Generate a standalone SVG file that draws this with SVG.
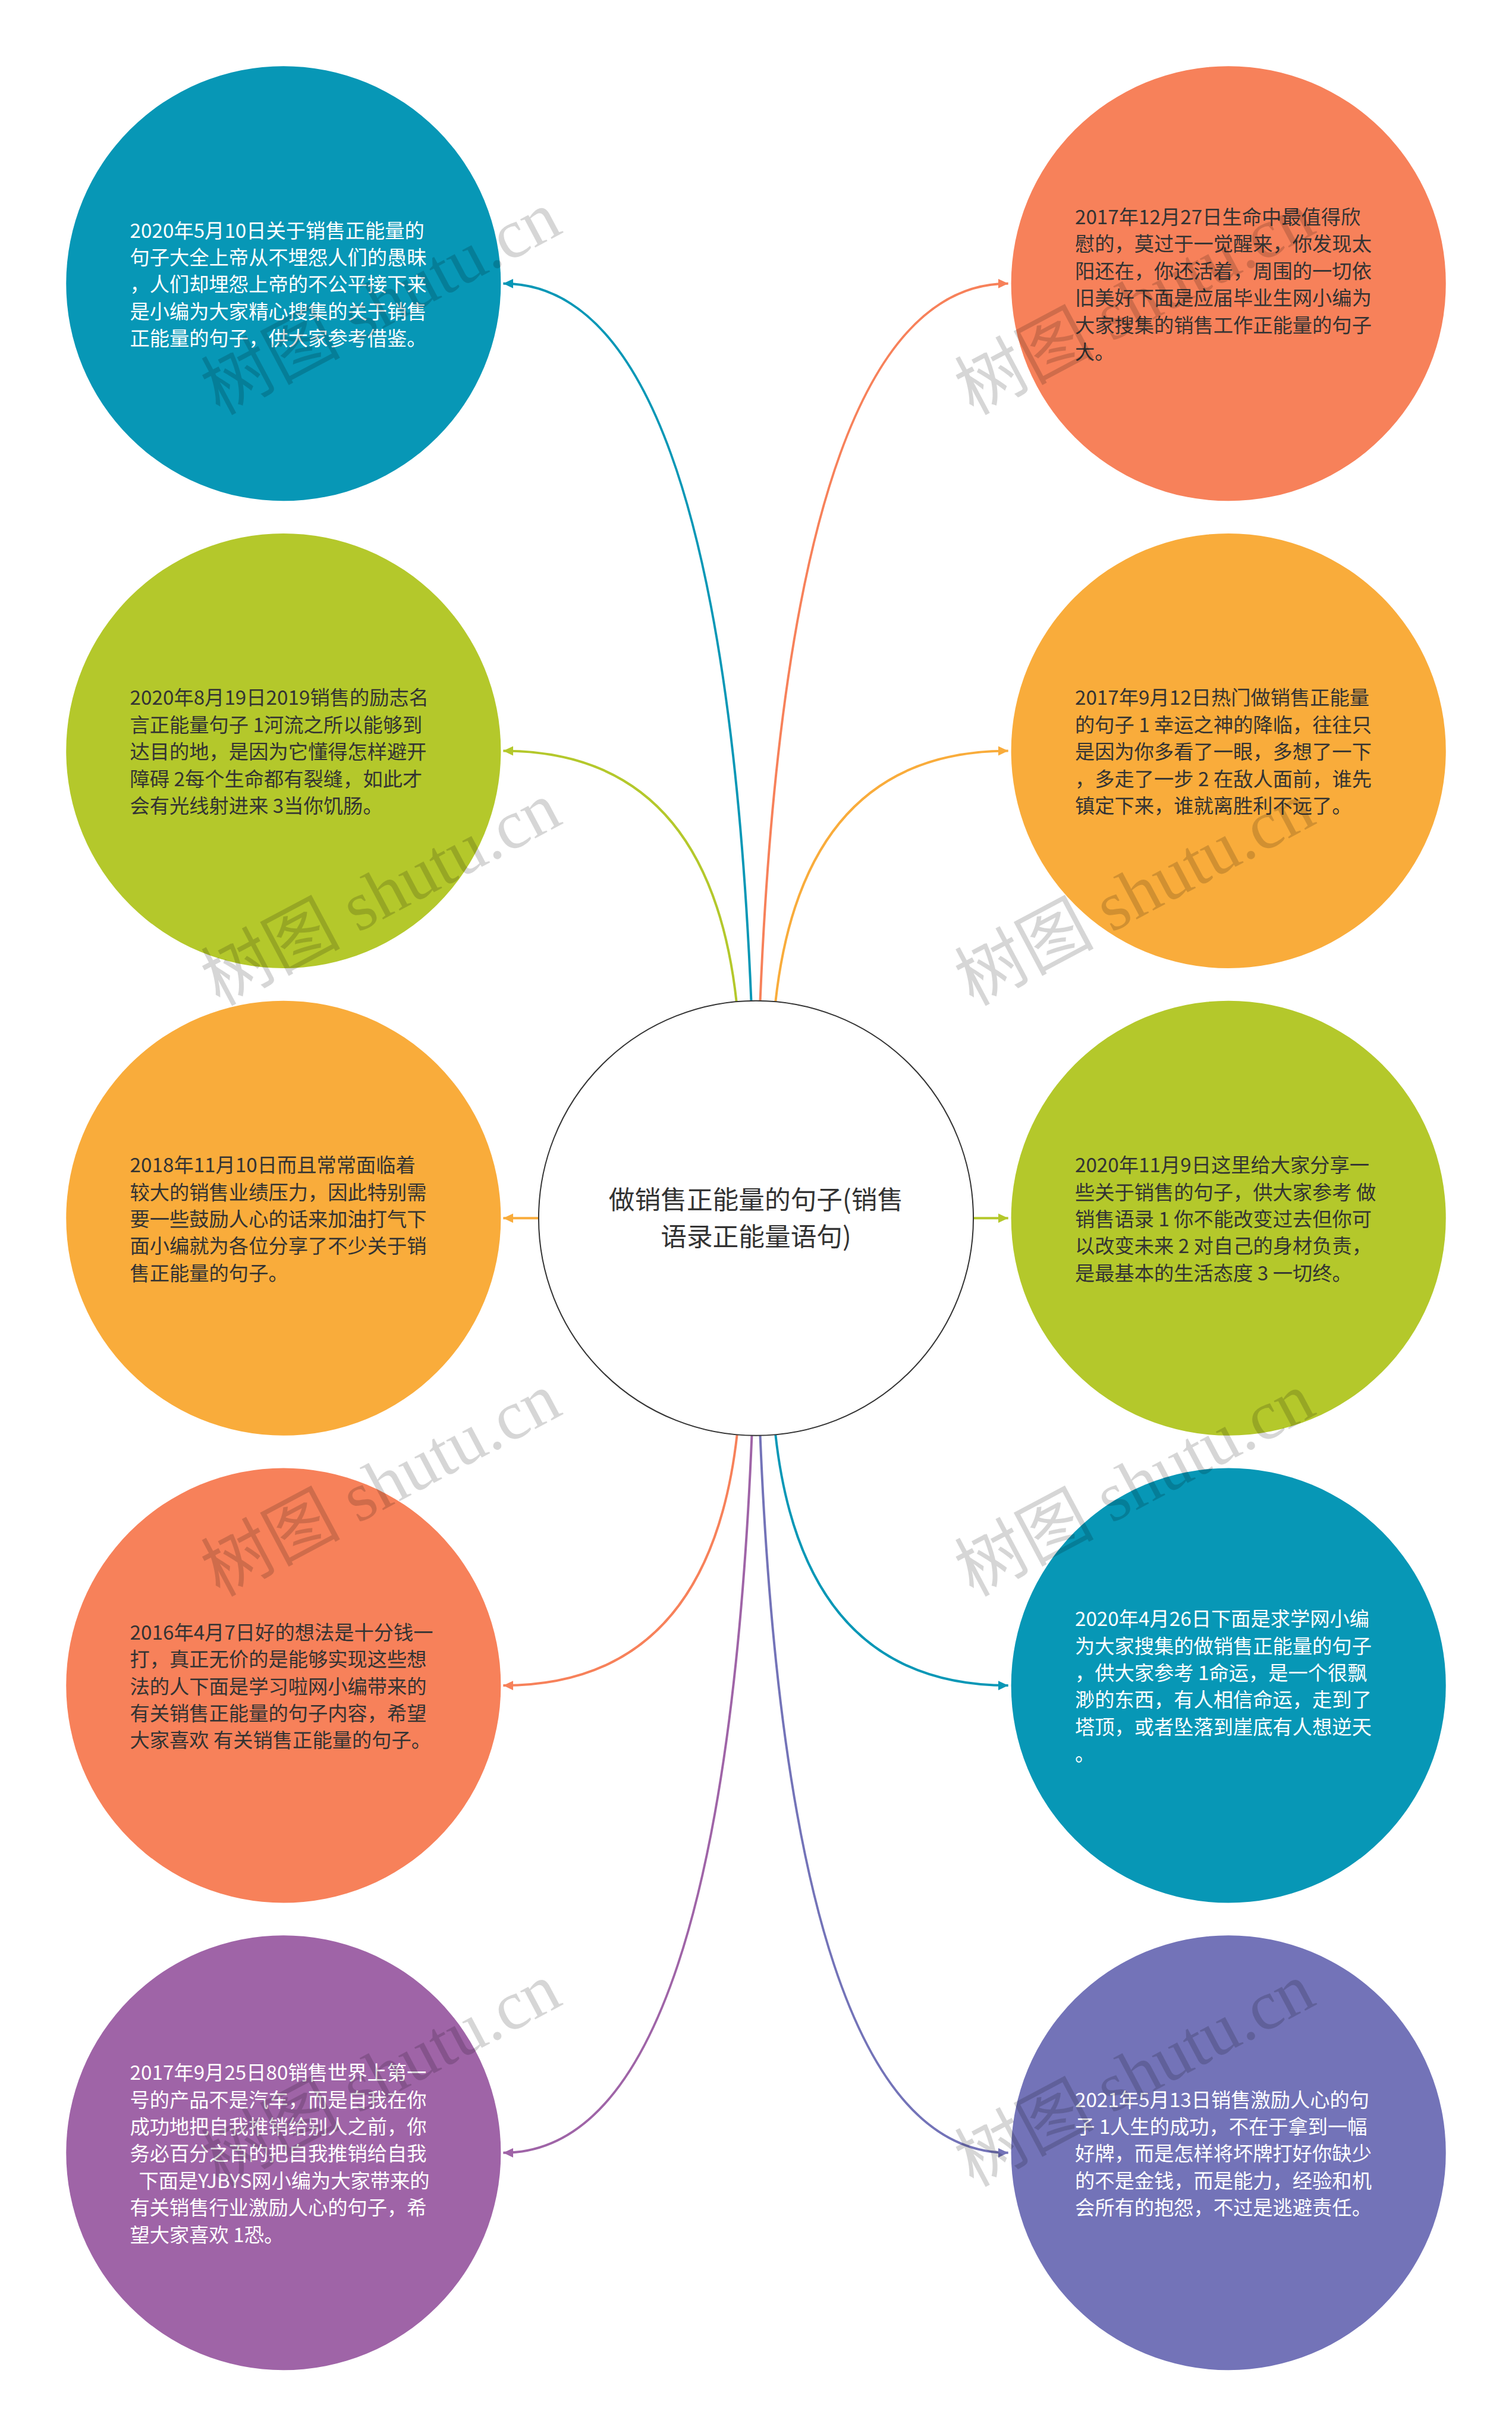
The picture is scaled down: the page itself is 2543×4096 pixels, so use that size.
<svg xmlns="http://www.w3.org/2000/svg" width="2543" height="4096" viewBox="0 0 2543 4096">
<style>
.nt{font-family:"Noto Sans CJK SC","Noto Sans",sans-serif;font-size:33.5px}
.dk{fill:#333333}
.wt{fill:#ffffff}
.ct{font-family:"Noto Sans CJK SC","Noto Sans",sans-serif;font-size:44px;fill:#333333;text-anchor:middle}
.cn{fill:none;stroke-width:4}
.wm{font-family:"Liberation Serif","Noto Sans CJK SC",serif;font-size:118px;fill:#000000;fill-opacity:0.16;text-anchor:middle;dominant-baseline:central}
</style>
<defs>
<marker id="aTeal" viewBox="0 0 17 16" refX="17" refY="8" markerWidth="17" markerHeight="16" markerUnits="userSpaceOnUse" orient="auto"><path d="M0,0 L17,8 L0,16 z" fill="#0797b6"/></marker>
<marker id="aOrange" viewBox="0 0 17 16" refX="17" refY="8" markerWidth="17" markerHeight="16" markerUnits="userSpaceOnUse" orient="auto"><path d="M0,0 L17,8 L0,16 z" fill="#f7815a"/></marker>
<marker id="aGreen" viewBox="0 0 17 16" refX="17" refY="8" markerWidth="17" markerHeight="16" markerUnits="userSpaceOnUse" orient="auto"><path d="M0,0 L17,8 L0,16 z" fill="#b4c82b"/></marker>
<marker id="aYellow" viewBox="0 0 17 16" refX="17" refY="8" markerWidth="17" markerHeight="16" markerUnits="userSpaceOnUse" orient="auto"><path d="M0,0 L17,8 L0,16 z" fill="#f9ac3b"/></marker>
<marker id="aPurple" viewBox="0 0 17 16" refX="17" refY="8" markerWidth="17" markerHeight="16" markerUnits="userSpaceOnUse" orient="auto"><path d="M0,0 L17,8 L0,16 z" fill="#9f64a7"/></marker>
<marker id="aViolet" viewBox="0 0 17 16" refX="17" refY="8" markerWidth="17" markerHeight="16" markerUnits="userSpaceOnUse" orient="auto"><path d="M0,0 L17,8 L0,16 z" fill="#7373b8"/></marker>
</defs>
<rect x="0" y="0" width="2543" height="4096" fill="#ffffff"/>
<g transform="scale(0.993359)">
<g id="connectors">
<path class="cn" stroke="#0797b6" marker-end="url(#aTeal)" d="M1272,1696 Q1221,480 852,480"/>
<path class="cn" stroke="#b4c82b" marker-end="url(#aGreen)" d="M1247,1696 Q1200,1271 852,1271"/>
<path class="cn" stroke="#f7815a" marker-end="url(#aOrange)" d="M1287,1696 Q1337,480 1707,480"/>
<path class="cn" stroke="#f9ac3b" marker-end="url(#aYellow)" d="M1313,1696 Q1360,1271 1707,1271"/>
<path class="cn" stroke="#f9ac3b" marker-end="url(#aYellow)" d="M912,2062 L852,2062"/>
<path class="cn" stroke="#b4c82b" marker-end="url(#aGreen)" d="M1648,2062 L1707,2062"/>
<path class="cn" stroke="#f7815a" marker-end="url(#aOrange)" d="M1248,2428 Q1200,2853 852,2853"/>
<path class="cn" stroke="#9f64a7" marker-end="url(#aPurple)" d="M1273,2428 Q1223,3644 852,3644"/>
<path class="cn" stroke="#7373b8" marker-end="url(#aViolet)" d="M1287,2428 Q1337,3644 1707,3644"/>
<path class="cn" stroke="#0797b6" marker-end="url(#aTeal)" d="M1313,2428 Q1360,2853 1707,2853"/>
</g>
<g id="center" transform="translate(1280,2062)">
<circle r="368" fill="#ffffff" stroke="#333333" stroke-width="2"/>
<text class="ct"><tspan x="0" y="-15">做销售正能量的句子(销售</tspan><tspan x="0" y="47">语录正能量语句)</tspan></text>
</g>
<g id="node-l1" transform="translate(480,480)">
<circle r="368" fill="#0797b6"/>
<text class="nt wt" transform="translate(0,-8)"><tspan x="-260" y="-69.7">2020年5月10日关于销售正能量的</tspan><tspan x="-260" y="-24">句子大全上帝从不埋怨人们的愚昧</tspan><tspan x="-260" y="21.7">，人们却埋怨上帝的不公平接下来</tspan><tspan x="-260" y="67.4">是小编为大家精心搜集的关于销售</tspan><tspan x="-260" y="113.1">正能量的句子，供大家参考借鉴。</tspan></text>
</g>
<g id="node-r1" transform="translate(2080,480)">
<circle r="368" fill="#f7815a"/>
<text class="nt dk" transform="translate(0,-8)"><tspan x="-260" y="-92.55">2017年12月27日生命中最值得欣</tspan><tspan x="-260" y="-46.85">慰的，莫过于一觉醒来，你发现太</tspan><tspan x="-260" y="-1.15">阳还在，你还活着，周围的一切依</tspan><tspan x="-260" y="44.55">旧美好下面是应届毕业生网小编为</tspan><tspan x="-260" y="90.25">大家搜集的销售工作正能量的句子</tspan><tspan x="-260" y="135.95">大。</tspan></text>
</g>
<g id="node-l2" transform="translate(480,1271)">
<circle r="368" fill="#b4c82b"/>
<text class="nt dk" transform="translate(0,-8)"><tspan x="-260" y="-69.7">2020年8月19日2019销售的励志名</tspan><tspan x="-260" y="-24">言正能量句子 1河流之所以能够到</tspan><tspan x="-260" y="21.7">达目的地，是因为它懂得怎样避开</tspan><tspan x="-260" y="67.4">障碍 2每个生命都有裂缝，如此才</tspan><tspan x="-260" y="113.1">会有光线射进来 3当你饥肠。</tspan></text>
</g>
<g id="node-r2" transform="translate(2080,1271)">
<circle r="368" fill="#f9ac3b"/>
<text class="nt dk" transform="translate(0,-8)"><tspan x="-260" y="-69.7">2017年9月12日热门做销售正能量</tspan><tspan x="-260" y="-24">的句子 1 幸运之神的降临，往往只</tspan><tspan x="-260" y="21.7">是因为你多看了一眼，多想了一下</tspan><tspan x="-260" y="67.4">，多走了一步 2 在敌人面前，谁先</tspan><tspan x="-260" y="113.1">镇定下来，谁就离胜利不远了。</tspan></text>
</g>
<g id="node-l3" transform="translate(480,2062)">
<circle r="368" fill="#f9ac3b"/>
<text class="nt dk" transform="translate(0,-8)"><tspan x="-260" y="-69.7">2018年11月10日而且常常面临着</tspan><tspan x="-260" y="-24">较大的销售业绩压力，因此特别需</tspan><tspan x="-260" y="21.7">要一些鼓励人心的话来加油打气下</tspan><tspan x="-260" y="67.4">面小编就为各位分享了不少关于销</tspan><tspan x="-260" y="113.1">售正能量的句子。</tspan></text>
</g>
<g id="node-r3" transform="translate(2080,2062)">
<circle r="368" fill="#b4c82b"/>
<text class="nt dk" transform="translate(0,-8)"><tspan x="-260" y="-69.7">2020年11月9日这里给大家分享一</tspan><tspan x="-260" y="-24">些关于销售的句子，供大家参考 做</tspan><tspan x="-260" y="21.7">销售语录 1 你不能改变过去但你可</tspan><tspan x="-260" y="67.4">以改变未来 2 对自己的身材负责，</tspan><tspan x="-260" y="113.1">是最基本的生活态度 3 一切终。</tspan></text>
</g>
<g id="node-l4" transform="translate(480,2853)">
<circle r="368" fill="#f7815a"/>
<text class="nt dk" transform="translate(0,-8)"><tspan x="-260" y="-69.7">2016年4月7日好的想法是十分钱一</tspan><tspan x="-260" y="-24">打，真正无价的是能够实现这些想</tspan><tspan x="-260" y="21.7">法的人下面是学习啦网小编带来的</tspan><tspan x="-260" y="67.4">有关销售正能量的句子内容，希望</tspan><tspan x="-260" y="113.1">大家喜欢 有关销售正能量的句子。</tspan></text>
</g>
<g id="node-r4" transform="translate(2080,2853)">
<circle r="368" fill="#0797b6"/>
<text class="nt wt" transform="translate(0,-8)"><tspan x="-260" y="-92.55">2020年4月26日下面是求学网小编</tspan><tspan x="-260" y="-46.85">为大家搜集的做销售正能量的句子</tspan><tspan x="-260" y="-1.15">，供大家参考 1命运，是一个很飘</tspan><tspan x="-260" y="44.55">渺的东西，有人相信命运，走到了</tspan><tspan x="-260" y="90.25">塔顶，或者坠落到崖底有人想逆天</tspan><tspan x="-260" y="135.95">。</tspan></text>
</g>
<g id="node-l5" transform="translate(480,3644)">
<circle r="368" fill="#9f64a7"/>
<text class="nt wt" transform="translate(0,-8)"><tspan x="-260" y="-115.4">2017年9月25日80销售世界上第一</tspan><tspan x="-260" y="-69.7">号的产品不是汽车，而是自我在你</tspan><tspan x="-260" y="-24">成功地把自我推销给别人之前，你</tspan><tspan x="-260" y="21.7">务必百分之百的把自我推销给自我</tspan><tspan x="-245" y="67.4">下面是YJBYS网小编为大家带来的</tspan><tspan x="-260" y="113.1">有关销售行业激励人心的句子，希</tspan><tspan x="-260" y="158.8">望大家喜欢 1恐。</tspan></text>
</g>
<g id="node-r5" transform="translate(2080,3644)">
<circle r="368" fill="#7373b8"/>
<text class="nt wt" transform="translate(0,-8)"><tspan x="-260" y="-69.7">2021年5月13日销售激励人心的句</tspan><tspan x="-260" y="-24">子 1人生的成功，不在于拿到一幅</tspan><tspan x="-260" y="21.7">好牌，而是怎样将坏牌打好你缺少</tspan><tspan x="-260" y="67.4">的不是金钱，而是能力，经验和机</tspan><tspan x="-260" y="113.1">会所有的抱怨，不过是逃避责任。</tspan></text>
</g>
<g id="watermarks">
<text class="wm" transform="translate(645,513) rotate(-28)">树图 shutu.cn</text>
<text class="wm" transform="translate(1921,513) rotate(-28)">树图 shutu.cn</text>
<text class="wm" transform="translate(645,1513) rotate(-28)">树图 shutu.cn</text>
<text class="wm" transform="translate(1921,1513) rotate(-28)">树图 shutu.cn</text>
<text class="wm" transform="translate(645,2513) rotate(-28)">树图 shutu.cn</text>
<text class="wm" transform="translate(1921,2513) rotate(-28)">树图 shutu.cn</text>
<text class="wm" transform="translate(645,3512) rotate(-28)">树图 shutu.cn</text>
<text class="wm" transform="translate(1921,3512) rotate(-28)">树图 shutu.cn</text>
</g>
</g>
</svg>
